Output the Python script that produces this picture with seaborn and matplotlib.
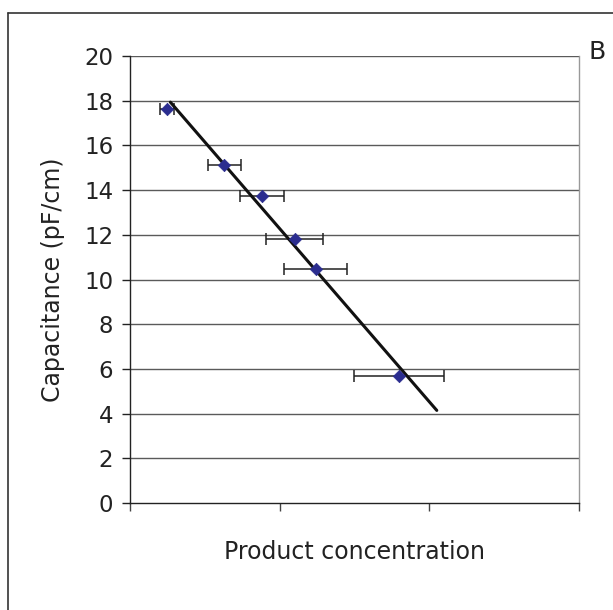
import numpy as np
import pandas as pd
import matplotlib
matplotlib.use("Agg")
import matplotlib.pyplot as plt
import seaborn as sns
from matplotlib.lines import Line2D

# data (x in arbitrary concentration units, axis 0..3)
conc = [0.25, 0.63, 0.88, 1.10, 1.24, 1.80]
capacitance = [17.65, 15.12, 13.75, 11.80, 10.47, 5.68]
conc_err = [0.047, 0.11, 0.147, 0.19, 0.21, 0.30]
trend_range = [0.27, 2.05]
y_ticks = [0, 2, 4, 6, 8, 10, 12, 14, 16, 18, 20]
x_ticks = [0, 1, 2, 3]

sns.set_style("white")
plt.rcParams['font.family'] = ['DejaVu Sans']

df = pd.DataFrame({"conc": conc, "cap": capacitance, "err": conc_err})

fig = plt.figure(figsize=(6.13, 6.10), dpi=100)
ax = fig.add_axes([0.212, 0.1754, 0.7325, 0.7326])

# gridlines
for yt in y_ticks[1:]:
    ax.axhline(yt, color='#5a5a5a', lw=1.0, zorder=0)

# error bars
ax.errorbar(df["conc"], df["cap"], xerr=df["err"], fmt='none', ecolor='#222222',
            elinewidth=1.1, capsize=4, capthick=1.1, zorder=2)

# trendline (least squares)
slope, intercept = np.polyfit(conc, capacitance, 1)
xl = np.array(trend_range)
ax.plot(xl, slope * xl + intercept, color='#111111', lw=2.2, zorder=3)

sns.scatterplot(data=df, x="conc", y="cap", marker='D', s=40, color='#2b2d8f',
                edgecolor='#2b2d8f', linewidth=0.5, ax=ax, zorder=4)

ax.set_xlim(0, 3)
ax.set_ylim(0, 20)
ax.set_xticks(x_ticks)
ax.set_xticklabels([])
ax.set_yticks(y_ticks)
ax.set_yticklabels([str(v) for v in y_ticks], fontsize=16.5, color='#222222')
ax.tick_params(axis='y', direction='out', length=6, width=1, color='#222222', left=True, pad=6)
ax.tick_params(axis='x', direction='out', length=6, width=1, color='#444444', bottom=True)

ax.spines['top'].set_visible(False)
ax.spines['right'].set_color('#999999')
ax.spines['right'].set_linewidth(1)
ax.spines['left'].set_color('#222222')
ax.spines['bottom'].set_color('#222222')
ax.spines['left'].set_linewidth(1)
ax.spines['bottom'].set_linewidth(1)

ax.set_xlabel("Product concentration", fontsize=17, color='#222222')
ax.set_ylabel("Capacitance (pF/cm)", fontsize=17, color='#222222')
ax.xaxis.label.set_va('center')
ax.yaxis.label.set_va('center')
ax.xaxis.set_label_coords(0.5, -0.1096)
ax.yaxis.set_label_coords(-0.1715, 0.5)

# panel label
fig.text(597/613, 1 - 52/610, "B", fontsize=18, color='#222222', ha='center', va='center')

# outer frame
fig.add_artist(Line2D([8/613, 8/613], [0, 1 - 13/610], transform=fig.transFigure,
                      color='#333333', lw=1.2))
fig.add_artist(Line2D([8/613, 1], [1 - 13/610, 1 - 13/610], transform=fig.transFigure,
                      color='#333333', lw=1.2))

fig.savefig("out.png", dpi=100, facecolor='white')
